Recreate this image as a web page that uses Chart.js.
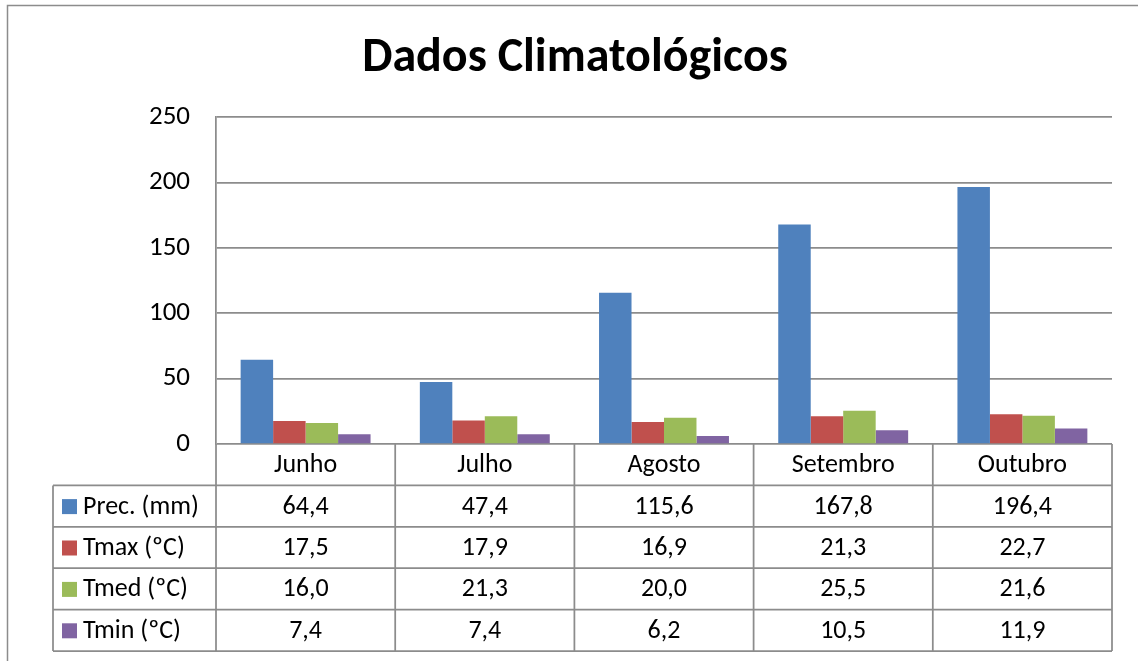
<!DOCTYPE html>
<html>
<head>
<meta charset="utf-8">
<script src="https://cdn.jsdelivr.net/npm/chart.js@4/dist/chart.umd.min.js"></script>
<style>
  html, body { margin: 0; padding: 0; background: #ffffff; }
  #wrap { width: 1138px; height: 661px; position: relative; }
  canvas { display: block; }
</style>
</head>
<body>
<div id="wrap"><canvas id="c" width="1138" height="661"></canvas></div>
<script>
const chartTitle = 'Dados Climatológicos';
const categories = ['Junho', 'Julho', 'Agosto', 'Setembro', 'Outubro'];
const seriesNames = ['Prec. (mm)', 'Tmax (ºC)', 'Tmed (ºC)', 'Tmin (ºC)'];
const prec = [64.4, 47.4, 115.6, 167.8, 196.4];
const tmax = [17.5, 17.9, 16.9, 21.3, 22.7];
const tmed = [16.0, 21.3, 20.0, 25.5, 21.6];
const tmin = [7.4, 7.4, 6.2, 10.5, 11.9];
const seriesColors = ['#4F81BD', '#C0504D', '#9BBB59', '#8064A2'];
const yTicks = [0, 50, 100, 150, 200, 250];

const FONT = 'Carlito, Lato, sans-serif';
const LINE = '#8c8c8c';
const TEXT_SIZE = 26;

const seriesValues = [prec, tmax, tmed, tmin];
const fmt = v => v.toFixed(1).replace('.', ',');

const tablePlugin = {
  id: 'dataTable',
  beforeDraw(chart) {
    const ctx = chart.ctx;
    ctx.save();
    ctx.strokeStyle = LINE;
    ctx.lineWidth = 1.5;
    ctx.beginPath();
    ctx.moveTo(7.5, 661);
    ctx.lineTo(7.5, 5.5);
    ctx.lineTo(1138, 5.5);
    ctx.stroke();
    ctx.restore();
  },
  afterDraw(chart) {
    const ctx = chart.ctx;
    const area = chart.chartArea;
    const xs = chart.scales.x;
    const n = categories.length;
    const colW = (area.right - area.left) / n;
    const top = area.bottom;
    const rowH = 41.4;
    const nRows = seriesNames.length + 1;
    const bottom = top + rowH * nRows;
    const tableLeft = 53;
    ctx.save();
    ctx.strokeStyle = LINE;
    ctx.lineWidth = 1.75;
    ctx.beginPath();
    for (let r = 1; r <= nRows; r++) {
      const y = top + rowH * r;
      ctx.moveTo(tableLeft, y);
      ctx.lineTo(area.right, y);
    }
    for (let c = 0; c <= n; c++) {
      const x = area.left + colW * c;
      ctx.moveTo(x, top);
      ctx.lineTo(x, bottom);
    }
    ctx.moveTo(tableLeft, top + rowH);
    ctx.lineTo(tableLeft, bottom);
    ctx.stroke();

    ctx.fillStyle = '#000';
    ctx.font = TEXT_SIZE + 'px ' + FONT;
    ctx.textBaseline = 'middle';
    ctx.textAlign = 'center';
    categories.forEach((cat, i) => {
      const cx = xs.getPixelForValue(i);
      ctx.fillText(cat, cx, top + rowH * 0.5 + 1);
    });
    seriesNames.forEach((name, r) => {
      const cy = top + rowH * (r + 1.5) + 1;
      ctx.fillStyle = seriesColors[r];
      ctx.fillRect(62, cy - 8, 15, 15);
      ctx.fillStyle = '#000';
      ctx.textAlign = 'left';
      ctx.fillText(name, 83, cy);
      ctx.textAlign = 'center';
      seriesValues[r].forEach((v, i) => {
        ctx.fillText(fmt(v), xs.getPixelForValue(i), cy);
      });
    });
    ctx.restore();
  }
};

new Chart(document.getElementById('c'), {
  type: 'bar',
  data: {
    labels: categories,
    datasets: seriesNames.map((name, i) => ({
      label: name,
      data: seriesValues[i],
      backgroundColor: seriesColors[i],
      borderWidth: 0,
      categoryPercentage: 0.725,
      barPercentage: 1.0
    }))
  },
  options: {
    responsive: false,
    devicePixelRatio: 1,
    animation: false,
    layout: { padding: { top: 0, left: 38, right: 26, bottom: 217 } },
    plugins: {
      legend: { display: false },
      tooltip: { enabled: false },
      title: {
        display: true,
        text: chartTitle,
        color: '#000',
        font: { family: FONT, size: 48, weight: 'bold', lineHeight: 1.2 },
        padding: { top: 30, bottom: 29.4 }
      }
    },
    scales: {
      x: { display: false },
      y: {
        min: 0,
        max: 250,
        afterBuildTicks(scale) { scale.ticks = yTicks.map(v => ({ value: v })); },
        afterFit(scale) { scale.width = 178; },
        ticks: {
          color: '#000',
          font: { family: FONT, size: 27 },
          padding: 26
        },
        grid: { color: LINE, lineWidth: 1.75, drawTicks: false },
        border: { display: true, color: LINE, width: 1.75 }
      }
    }
  },
  plugins: [tablePlugin]
});
</script>
</body>
</html>
